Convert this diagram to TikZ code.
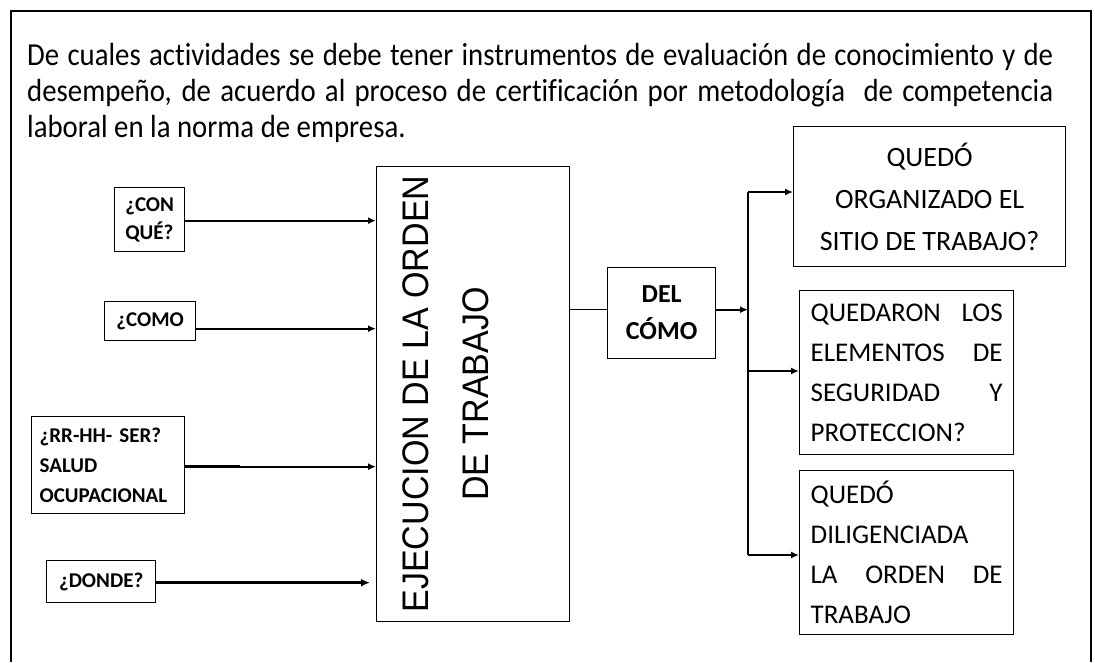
\documentclass[tikz,border=0pt]{standalone}
\usepackage{fontspec}
\setmainfont{Carlito}[Ligatures=NoCommon]
\newfontfamily\titlefont{Carlito}[FakeStretch=0.9,Ligatures=NoCommon]
\newfontfamily\arialfont{Liberation Sans}[FakeStretch=0.92]
\usetikzlibrary{arrows.meta,calc}
\begin{document}
\begin{tikzpicture}[x=1pt,y=-1pt,
  box/.style={draw, line width=1.3pt, inner sep=0pt, anchor=north west},
  inbox/.style={box, font=\bfseries\fontsize{21}{28}\selectfont, align=left},
  outbox/.style={box, font=\fontsize{27}{40}\selectfont, align=left, text width=192pt, inner xsep=11pt},
  arr/.style={line width=2pt, -{Latex[length=8pt,width=7pt]}},
  titleline/.style={anchor=base west, inner sep=0pt, font=\titlefont\fontsize{32}{35}\selectfont}
]
\useasboundingbox (0,0) rectangle (1095,662);
% outer frame (open at bottom)
\draw[line width=2pt] (11,662) -- (11,11) -- (1091,11) -- (1091,662);

% title
\node[titleline] (t1) at (27,65) {\makebox[1026pt][s]{De cuales actividades se debe tener instrumentos de evaluación de conocimiento y de}};
\node[titleline] (t2) at (27,101) {\makebox[1026pt][s]{desempeño, de acuerdo al proceso de certificación por metodología \ de competencia}};
\node[titleline] (t3) at (27,137) {laboral en la norma de empresa.};

% input boxes
\node[inbox, minimum width=70pt, minimum height=64pt] (con) at (114,187) {¿CON\\QUÉ?};
\node[inbox, minimum width=91pt, minimum height=39pt] (como) at (104,301) {¿COMO};
\node[inbox, minimum width=153pt, minimum height=97pt, text width=137pt, inner xsep=8pt, font=\bfseries\fontsize{21}{30}\selectfont] (rr) at (31,416) {¿RR-HH- SER?\\SALUD\\OCUPACIONAL};
\node[inbox, minimum width=109pt, minimum height=42pt] (donde) at (46,560) {¿DONDE?};

% big box
\node[box, minimum width=193pt, minimum height=455pt] (big) at (376,166) {};
\node[rotate=90, align=center, inner sep=0pt, font=\arialfont\fontsize{37}{60}\selectfont] (bigtxt) at (446,394) {EJECUCION DE LA ORDEN\\DE TRABAJO};

% DEL COMO
\node[box, minimum width=108pt, minimum height=91pt, align=center, font=\bfseries\fontsize{26}{37}\selectfont] (del) at (607,267) {DEL\\CÓMO};

% output boxes
\node[box, minimum width=272pt, minimum height=140pt, align=center, font=\fontsize{28}{42}\selectfont] (r1) at (793,126) {QUEDÓ\\ORGANIZADO EL\\SITIO DE TRABAJO?};
\node[outbox, minimum height=164pt] (r2) at (799,290) {QUEDARON\hfill LOS\\ELEMENTOS\hfill DE\\SEGURIDAD\hfill Y\\PROTECCION?};
\node[outbox, minimum height=164pt] (r3) at (799,470) {QUEDÓ\\DILIGENCIADA\\LA\hfill ORDEN\hfill DE\\TRABAJO};

% input arrows
\coordinate (conO) at ([yshift=-1pt]con.east);
\draw[arr] (conO) -- (conO -| big.west);
\coordinate (comoO) at ([yshift=-7.5pt]como.east);
\draw[arr] (comoO) -- (comoO -| big.west);
\coordinate (rrO) at ([yshift=-1.5pt]rr.east);
\coordinate (rrK) at ([xshift=55pt]rrO);
\draw[line width=3pt] (rrO) -- (rrK);
\draw[arr] (rrO) -- (rrO -| big.west);
\coordinate (dondeO) at ([yshift=-1pt]donde.east);
\draw[line width=3.2pt, -{Latex[length=9pt,width=8pt]}, shorten >=6pt] (dondeO) -- (dondeO -| big.west);

% output side
\coordinate (sTop) at (748,192);
\coordinate (sMid) at (748,371);
\coordinate (sBot) at (748,555);
\coordinate (dA) at ([yshift=3.5pt]del.west);
\coordinate (dB) at ([yshift=3.5pt]del.east);
\draw[line width=1.2pt] (dA -| big.east) -- (dA);
\draw[arr] (dB) -- (dB -| sTop);
\draw[line width=1.4pt] (sTop) -- (sBot);
\draw[arr] (sTop) -- (sTop -| r1.west);
\draw[arr] (sMid) -- (sMid -| r2.west);
\draw[arr] (sBot) -- (sBot -| r3.west);
\end{tikzpicture}
\end{document}
